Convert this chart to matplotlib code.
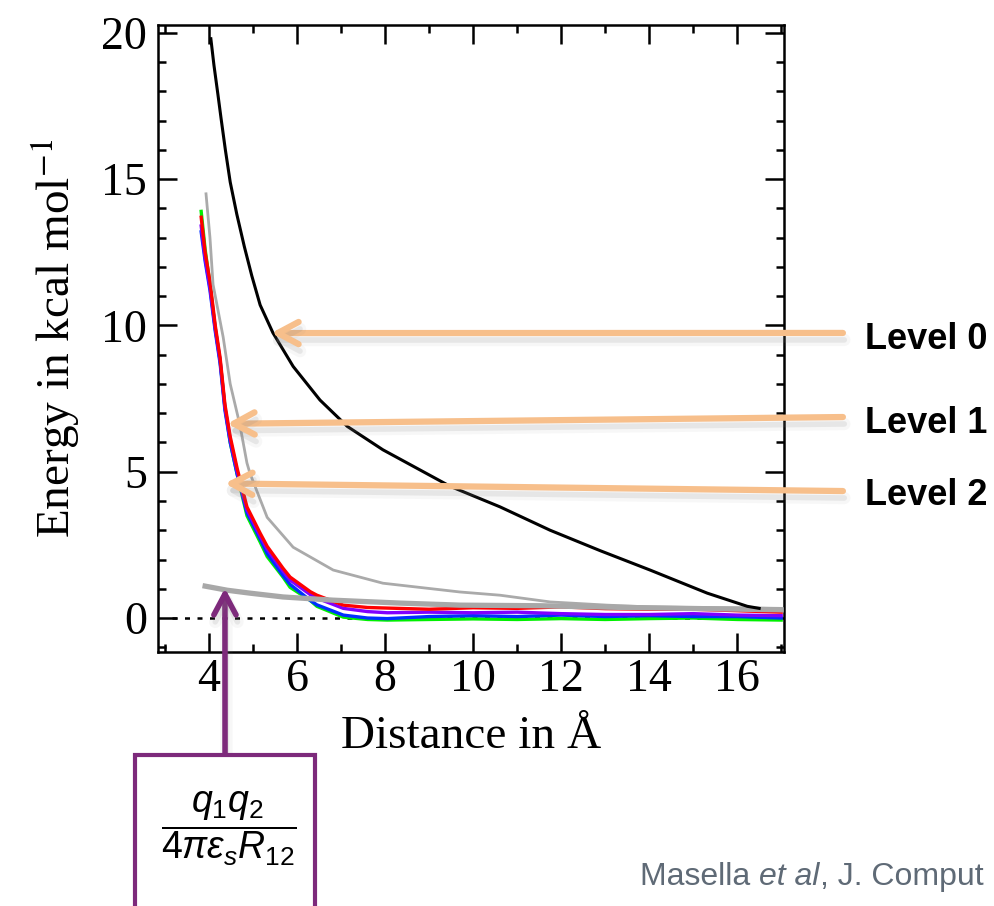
import matplotlib
matplotlib.use("Agg")
import matplotlib.pyplot as plt
import matplotlib.patheffects as pe
from matplotlib.patches import Rectangle
from matplotlib.ticker import MultipleLocator

plt.rcParams["font.family"] = ["Liberation Serif", "DejaVu Serif"]
plt.rcParams["mathtext.fontset"] = "custom"
plt.rcParams["mathtext.rm"] = "Liberation Sans"
plt.rcParams["mathtext.it"] = "Liberation Sans:italic"

# Level 0 (black)
lvl0_x = [4.04, 4.11, 4.2, 4.27, 4.37, 4.48, 4.63, 4.8, 4.97, 5.16, 5.45, 5.91, 6.52,
          7.14, 7.95, 9.48, 10.61, 11.75, 12.89, 14.02, 15.32, 16.23, 16.5]
lvl0_e = [19.8, 18.9, 17.9, 17.1, 16.0, 14.9, 13.8, 12.7, 11.7, 10.7, 9.75, 8.6, 7.45,
          6.55, 5.75, 4.5, 3.8, 3.0, 2.3, 1.64, 0.85, 0.4, 0.33]

# Level 1 (thin grey)
lvl1_x = [3.93, 4.02, 4.09, 4.32, 4.48, 4.7, 4.86, 4.93, 5.32, 5.91, 6.82, 7.95, 9.7,
          10.61, 11.75, 13.05, 14.0, 15.0, 16.0, 17.0]
lvl1_e = [14.5, 13.0, 11.4, 9.6, 8.0, 6.6, 5.3, 4.94, 3.44, 2.42, 1.64, 1.19, 0.89,
          0.78, 0.55, 0.44, 0.38, 0.36, 0.35, 0.33]

# Coulomb term (thick grey)
coul_x = [3.91, 4.41, 4.93, 5.68, 6.82, 8.34, 9.7, 11.52, 13.05, 17.0]
coul_e = [1.09, 0.95, 0.85, 0.72, 0.61, 0.51, 0.44, 0.42, 0.37, 0.28]

# Level 2 runs
lvl2_x = [3.82, 3.91, 4.02, 4.14, 4.25, 4.36, 4.48, 4.64, 4.86, 5.16, 5.32, 5.68, 5.84,
          6.3, 6.45, 7.05, 7.6, 8.05, 9, 10, 11, 12, 13, 14, 15, 16, 17]
red_e = [13.7, 12.5, 11.5, 10.0, 8.9, 7.3, 6.2, 5.1, 3.8, 2.9, 2.45, 1.7, 1.4, 0.9, 0.78,
         0.44, 0.36, 0.34, 0.3, 0.35, 0.33, 0.38, 0.32, 0.3, 0.3, 0.25, 0.2]
purple_e = [13.4, 12.3, 11.3, 9.9, 8.8, 7.2, 6.1, 5.0, 3.7, 2.8, 2.35, 1.6, 1.3, 0.8, 0.68,
            0.33, 0.22, 0.18, 0.2, 0.18, 0.2, 0.15, 0.12, 0.12, 0.15, 0.1, 0.08]
blue_e = [13.2, 12.2, 11.2, 9.8, 8.7, 7.1, 6.0, 4.9, 3.6, 2.7, 2.2, 1.45, 1.15, 0.6, 0.45,
          0.1, 0.0, -0.02, 0.05, 0.08, 0.05, 0.1, 0.05, 0.08, 0.05, 0.05, 0.0]
green_e = [13.9, 12.6, 11.4, 9.9, 8.8, 7.2, 6.0, 4.9, 3.5, 2.6, 2.1, 1.4, 1.05, 0.6, 0.4,
           0.03, -0.05, -0.07, -0.05, -0.03, -0.05, -0.02, -0.05, -0.02, 0.0, -0.05, -0.07]

LEVELS = ["Level 0", "Level 1", "Level 2"]
ORANGE = "#F7BF8B"
PURPLE = "#7D2A7B"
CITE = "#5F6A76"


def shadow():
    return [pe.SimpleLineShadow(offset=(1, -5), shadow_color="0.5", alpha=0.06, linewidth=9),
            pe.SimpleLineShadow(offset=(1, -5), shadow_color="0.5", alpha=0.14, linewidth=4),
            pe.Normal()]


fig = plt.figure(figsize=(9.94, 9.06), dpi=100)
ax = fig.add_axes([0.159, 0.2804, 0.630, 0.692])

ax.plot([3.15, 17.07], [0, 0], color="black", lw=1.8, ls=(0, (2, 3)), zorder=1)
ax.plot(lvl2_x, green_e, color="#00F000", lw=2.4, zorder=2)
ax.plot(lvl2_x, blue_e, color="#0030FF", lw=2.4, zorder=2)
ax.plot(lvl2_x, purple_e, color="#8000FF", lw=2.4, zorder=2)
ax.plot(lvl2_x, red_e, color="#FF0000", lw=2.4, zorder=2)
ax.plot(lvl1_x, lvl1_e, color="#AAAAAA", lw=2.0, zorder=3)
ax.plot(coul_x, coul_e, color="#A8A8A8", lw=3.8, zorder=3)
ax.plot(lvl0_x, lvl0_e, color="black", lw=2.2, zorder=4)

ax.set_xlim(2.84, 17.07)
ax.set_ylim(-1.16, 20.27)
ax.xaxis.set_major_locator(MultipleLocator(2))
ax.xaxis.set_minor_locator(MultipleLocator(1))
ax.yaxis.set_major_locator(MultipleLocator(5))
ax.yaxis.set_minor_locator(MultipleLocator(1))
ax.tick_params(which="both", direction="in", top=True, right=True, width=1.8, labelsize=33)
ax.tick_params(which="major", length=14)
ax.tick_params(which="minor", length=6)
ax.tick_params(axis="x", pad=5)
ax.tick_params(axis="y", pad=8)
for s in ax.spines.values():
    s.set_linewidth(1.8)
ax.set_xlabel("Distance in Å", fontsize=34, labelpad=10)
ax.set_ylabel("Energy in kcal mol$^{-1}$", fontsize=34, labelpad=14)
ax.yaxis.label.set_math_fontfamily("stix")

# level arrows
tips = [(5.41, 9.74), (4.41, 6.64), (4.36, 4.6)]
tails = [(0.848, 0.6325), (0.848, 0.5397), (0.848, 0.458)]
label_y = [0.6148, 0.5221, 0.4426]
for lab, tip, tail, ly in zip(LEVELS, tips, tails, label_y):
    ax.annotate("", xy=tip, xycoords="data", xytext=tail, textcoords="figure fraction",
                annotation_clip=False, zorder=6,
                arrowprops=dict(arrowstyle="->,head_length=15,head_width=8", mutation_scale=1,
                                color=ORANGE, lw=4.5, shrinkA=0, shrinkB=0,
                                path_effects=shadow()))
    fig.text(0.870, ly, lab, family="Liberation Sans", fontweight="bold", fontsize=26,
             va="baseline", ha="left")

# Coulomb term box and arrow
ax.annotate("", xy=(4.36, 1.02), xycoords="data", xytext=(0.2264, 0.1667),
            textcoords="figure fraction", annotation_clip=False, zorder=6,
            arrowprops=dict(arrowstyle="->,head_length=15,head_width=8", mutation_scale=1,
                            color=PURPLE, lw=4.0, shrinkA=0, shrinkB=0,
                            path_effects=shadow()))
fig.add_artist(Rectangle((0.1358, -0.02), 0.181, 0.1867, transform=fig.transFigure,
                         facecolor="white", edgecolor=PURPLE, lw=3.0))
fig.text(0.2304, 0.085, r"$\dfrac{q_1 q_2}{4\pi\varepsilon_s R_{12}}$", fontsize=27,
         ha="center", va="center", math_fontfamily="custom", color="black")

# citation
t1 = fig.text(0.6439, 0.0232, "Masella ", family="Liberation Sans", fontsize=23,
              color=CITE, va="baseline")
t2 = ax.annotate("et al", xy=(1, 0), xycoords=t1, family="Liberation Sans", style="italic",
                 fontsize=23, color=CITE, va="bottom", annotation_clip=False)
ax.annotate(", J. Comput", xy=(1, 0), xycoords=t2, family="Liberation Sans",
            fontsize=23, color=CITE, va="bottom", annotation_clip=False)

fig.savefig("out.png", dpi=100)
